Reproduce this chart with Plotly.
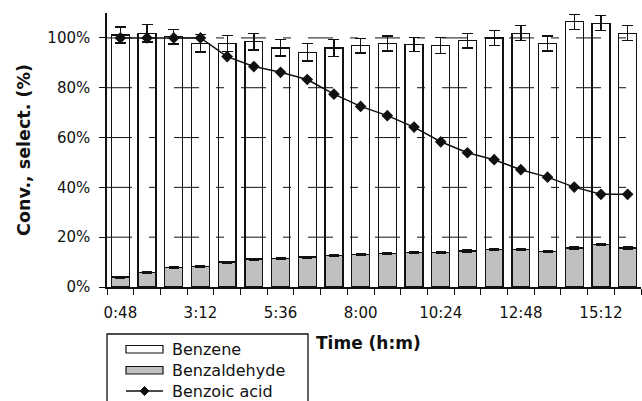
import plotly.graph_objects as go

# Sampling times (h:m), one bar per sample
times = ["0:48", "1:36", "2:24", "3:12", "4:00", "4:48", "5:36", "6:24", "7:12", "8:00",
         "8:48", "9:36", "10:24", "11:12", "12:00", "12:48", "13:36", "14:24", "15:12", "16:00"]
labelled_times = ["0:48", "3:12", "5:36", "8:00", "10:24", "12:48", "15:12"]

# Selectivities (%) of the stacked bars
benzaldehyde = [4.0, 5.8, 7.9, 8.3, 10.0, 11.2, 11.5, 12.0, 12.6, 13.1,
                13.4, 13.8, 13.9, 14.4, 15.0, 15.0, 14.3, 15.6, 17.0, 15.6]
benzaldehyde_err = [0.3, 0.3, 0.3, 0.4, 0.3, 0.3, 0.3, 0.3, 0.3, 0.4,
                    0.4, 0.4, 0.4, 0.4, 0.4, 0.4, 0.4, 0.4, 0.3, 0.4]
benzene = [97.2, 96.1, 92.6, 89.5, 87.8, 87.3, 84.5, 82.2, 83.4, 83.8,
           84.4, 83.5, 83.0, 84.5, 85.0, 86.9, 83.5, 90.9, 88.9, 86.3]
benzene_err = [3.2, 3.5, 3.0, 3.5, 3.3, 3.3, 3.3, 3.5, 3.5, 3.0,
               3.0, 2.8, 3.2, 3.0, 3.0, 3.0, 3.0, 3.0, 3.0, 3.0]

# Conversion (%) of benzoic acid
benzoic_acid = [100.0, 100.0, 100.0, 100.0, 92.5, 88.5, 86.2, 83.3, 77.4, 72.5,
                68.8, 64.2, 58.3, 53.9, 51.1, 47.1, 44.1, 40.1, 37.2, 37.2]

y_ticks = [0, 20, 40, 60, 80, 100]
y_ticktext = ["0%", "20%", "40%", "60%", "80%", "100%"]

FONT = "DejaVu Sans"
GREY = "#c0c0c0"
INK = "#111111"

fig = go.Figure()

fig.add_trace(go.Bar(
    name="Benzaldehyde", x=times, y=benzaldehyde,
    marker=dict(color=GREY, line=dict(color=INK, width=1.3)),
    error_y=dict(type="data", array=benzaldehyde_err, color=INK, thickness=1.5, width=5),
))
fig.add_trace(go.Bar(
    name="Benzene", x=times, y=benzene,
    marker=dict(color="rgba(255,255,255,0)", line=dict(color=INK, width=1.3)),
    error_y=dict(type="data", array=benzene_err, color=INK, thickness=1.3, width=5.5),
))
fig.add_trace(go.Scatter(
    name="Benzoic acid", x=times, y=benzoic_acid, mode="lines+markers",
    line=dict(color=INK, width=1.5),
    marker=dict(symbol="diamond", size=9, color=INK),
))

# Plot-area geometry used to place the hand-drawn legend
L, R, T, B = 107, 641, 13, 287
W, H = 642, 401


def px(xp):
    return (xp - L) / (R - L)


def py(yp):
    return (B - yp) / (B - T)


# Dash-dot gridlines drawn at each labelled percentage
shapes = [
    dict(type="line", xref="paper", yref="y", x0=0, x1=1, y0=v, y1=v,
         line=dict(color=INK, width=1, dash="25px,17px,8px,17px"), layer="above")
    for v in y_ticks[1:]
]

shapes += [
    # legend frame
    dict(type="rect", xref="paper", yref="paper", x0=px(107), x1=px(308), y0=py(334), y1=py(412),
         line=dict(color=INK, width=1.3), fillcolor="white"),
    # Benzene swatch
    dict(type="rect", xref="paper", yref="paper", x0=px(126), x1=px(163), y0=py(345.5), y1=py(353),
         line=dict(color=INK, width=1.2), fillcolor="white"),
    # Benzaldehyde swatch
    dict(type="rect", xref="paper", yref="paper", x0=px(126), x1=px(163), y0=py(366.5), y1=py(374),
         line=dict(color=INK, width=1.2), fillcolor=GREY),
    # Benzoic acid line sample
    dict(type="line", xref="paper", yref="paper", x0=px(126), x1=px(163), y0=py(391), y1=py(391),
         line=dict(color=INK, width=1.5)),
    dict(type="path", xref="paper", yref="paper",
         path="M {a},{c} L {b},{d} L {e},{c} L {b},{f} Z".format(
             a=px(140), b=px(144.5), e=px(149), c=py(391), d=py(386.5), f=py(395.5)),
         line=dict(color=INK, width=1), fillcolor=INK),
]

annotations = []
for label, yc in [("Benzene", 349), ("Benzaldehyde", 370), ("Benzoic acid", 391)]:
    annotations.append(dict(text=label, xref="paper", yref="paper", x=px(170), y=py(yc),
                            xanchor="left", yanchor="middle", showarrow=False,
                            font=dict(family=FONT, size=16, color=INK)))
annotations.append(dict(text="Time (h:m)", xref="paper", yref="paper", x=px(368), y=py(343),
                        xanchor="center", yanchor="middle", showarrow=False,
                        font=dict(family=FONT, size=17, color=INK, weight="bold")))

fig.update_layout(
    width=W, height=H,
    margin=dict(l=L, r=W - R, t=T, b=H - B, autoexpand=False),
    barmode="stack", bargap=0.33,
    plot_bgcolor="white", paper_bgcolor="white",
    showlegend=False,
    font=dict(family=FONT, size=15, color=INK),
    shapes=shapes, annotations=annotations,
)

fig.update_xaxes(
    type="category", range=[-0.5, 19.5],
    tickmode="array", tickvals=times,
    ticktext=[t if t in labelled_times else "" for t in times],
    tickangle=0, ticklabelstandoff=11,
    tickson="boundaries", ticks="outside", ticklen=6, tickwidth=1.2, tickcolor=INK,
    showline=True, linecolor=INK, linewidth=1.5, showgrid=False,
    tickfont=dict(family=FONT, size=15, color=INK), automargin=False,
)
fig.update_yaxes(
    range=[0, 110], tickmode="array", tickvals=y_ticks, ticktext=y_ticktext,
    ticks="outside", ticklen=6, tickwidth=1.2, tickcolor=INK,
    showline=True, linecolor=INK, linewidth=1.5,
    showgrid=False, zeroline=False, ticklabelstandoff=6,
    tickfont=dict(family=FONT, size=15, color=INK), automargin=False,
    title=dict(text="Conv., select. (%)", standoff=12,
               font=dict(family=FONT, size=17.5, color=INK, weight="bold")),
)

fig.write_html("out.html")
